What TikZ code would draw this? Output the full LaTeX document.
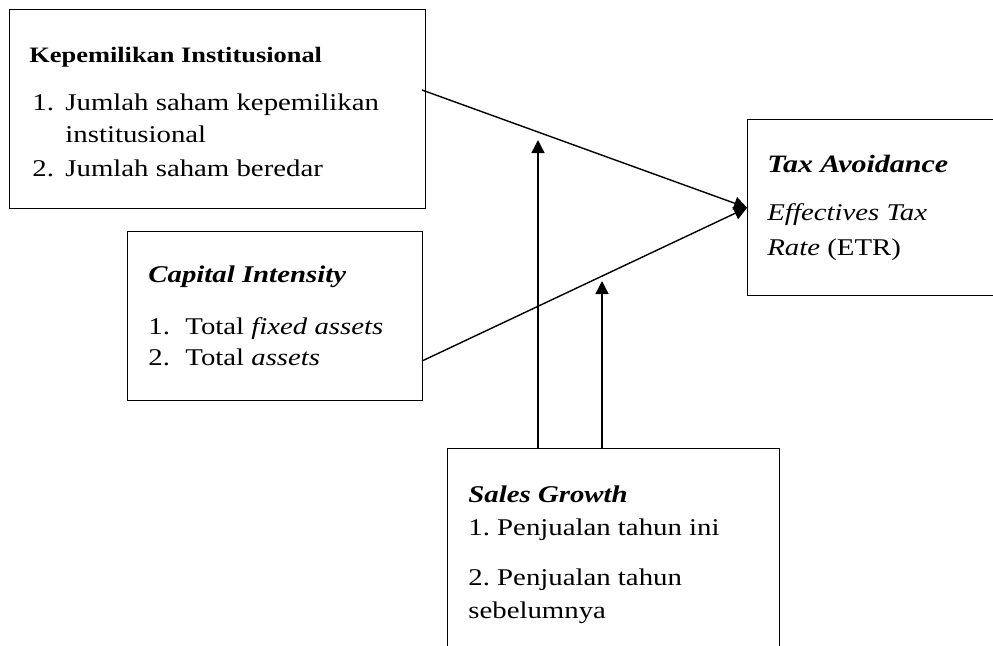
\documentclass[tikz,border=0pt]{standalone}
\usepackage{fontspec}
\setmainfont[FakeStretch=1.2]{Liberation Serif}
\usetikzlibrary{arrows.meta}
\frenchspacing
\tikzset{
  box/.style={draw, line width=0.7pt, anchor=north west, inner sep=0pt},
  txt/.style={anchor=base west, inner sep=0pt, font=\fontsize{12pt}{14pt}\selectfont},
  link/.style={line width=0.7pt, -{Triangle[length=6.5pt,width=6.5pt]}}
}
\begin{document}
\begin{tikzpicture}[x=0.5pt,y=-0.5pt]
                    \useasboundingbox (0,0) rectangle (993,645);
                    \clip (0,0) rectangle (993,645);
                    % boxes
                    \node[box, minimum width=208pt, minimum height=99.5pt] (kep) at (9,9) {};
                    \node[box, minimum width=147.5pt, minimum height=84.5pt] (cap) at (127,231) {};
                    \node[box, minimum width=130pt, minimum height=88pt] (tax) at (747,119) {};
                    \node[box, minimum width=166pt, minimum height=110pt] (sales) at (447,448) {};
                    % texts
                    \node[txt, font=\fontsize{11pt}{13pt}\selectfont] (kep1) at (29,62) {\textbf{Kepemilikan Institusional}};
                    \node[txt] (kep2) at (32,110) {1.};
                    \node[txt] (kep3) at (65,110) {Jumlah saham kepemilikan};
                    \node[txt] (kep4) at (65,142) {institusional};
                    \node[txt] (kep5) at (32,176) {2.};
                    \node[txt] (kep6) at (65,176) {Jumlah saham beredar};
                    \node[txt] (cap1) at (148,282) {\textbf{\textit{Capital Intensity}}};
                    \node[txt] (cap2) at (148,334) {1.};
                    \node[txt] (cap3) at (185,334) {Total \textit{fixed assets}};
                    \node[txt] (cap4) at (148,365) {2.};
                    \node[txt] (cap5) at (185,365) {Total \textit{assets}};
                    \node[txt, font=\fontsize{12.5pt}{14pt}\selectfont] (tax1) at (767,172) {\textbf{\textit{Tax Avoidance}}};
                    \node[txt] (tax2) at (767,220) {\textit{Effectives Tax}};
                    \node[txt] (tax3) at (767,255) {\textit{Rate} (ETR)};
                    \node[txt] (sal1) at (468,502) {\textbf{\textit{Sales Growth}}};
                    \node[txt] (sal2) at (468,535) {1. Penjualan tahun ini};
                    \node[txt] (sal3) at (468,585) {2. Penjualan tahun};
                    \node[txt] (sal4) at (468,618) {sebelumnya};
                    % connectors
                    \coordinate (kepout) at (422,90);
                    \coordinate (capout) at (422,361);
                    \coordinate (mod1) at (538,140);
                    \coordinate (mod2) at (602,281);
                    \draw[link] (kepout) -- (tax.west);
                    \draw[link] (capout) -- (tax.west);
                    \draw[link] (mod1 |- sales.north) -- (mod1);
                    \draw[link] (mod2 |- sales.north) -- (mod2);
                \end{tikzpicture}
\end{document}
